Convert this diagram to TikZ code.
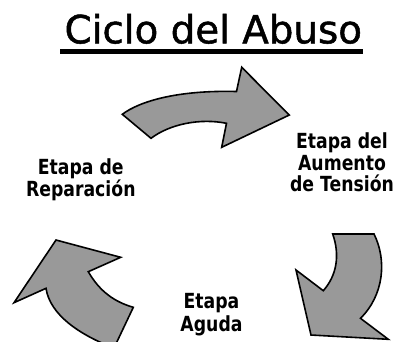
\documentclass[tikz,border=0pt]{standalone}
\usepackage{fontspec}
\setmainfont{DejaVu Sans}
\newfontfamily\titlefont{DejaVu Sans}[FakeBold=1.3]
\newfontfamily\labfont{DejaVu Sans}[FakeStretch=0.83]
\definecolor{arrowgray}{RGB}{153,153,153}
\tikzset{
  arrowshape/.style={fill=arrowgray, draw=black, line width=1.6pt, line join=miter, miter limit=10},
  titletext/.style={anchor=base, inner sep=0pt, font=\titlefont\fontsize{38.8}{40}\selectfont},
  labtext/.style={anchor=base, inner sep=0pt, font=\labfont\bfseries\fontsize{20.8}{22}\selectfont}
}
\begin{document}
\begin{tikzpicture}[x=1pt,y=-1pt]
\clip (0,0) rectangle (401,341);
\fill[white] (0,0) rectangle (401,341);
% title
\node[titletext] (title) at (213.3,43.3) {Ciclo del Abuso};
\fill[black] (60,49.3) rectangle (363,54.3);
% top arrow
\draw[arrowshape] (122.3,114.3) .. controls (140,101) and (178,90) .. (236.5,91.5)
  -- (241.7,67.3) -- (289.3,115) -- (221.7,147.3) -- (226.5,123.3)
  .. controls (200,118) and (170,124) .. (151,138.3) -- cycle;
% right arrow
\draw[arrowshape] (332.7,234) -- (374,234) .. controls (387,260) and (384,295) .. (360.5,318.3)
  -- (388.3,339.3) -- (311,335) -- (296,270) -- (323.3,290.7)
  .. controls (337,275) and (340,255) .. (332.7,234) -- cycle;
% left arrow
\draw[arrowshape] (56,240) -- (120.7,257.3) -- (88.3,271.7)
  .. controls (100,292) and (115,302) .. (133.3,307.3) -- (114,348)
  .. controls (80,335) and (50,315) .. (46,288.3) -- (14,302.7) -- cycle;
% labels
\node[labtext] (repA) at (80.8,174) {Etapa de};
\node[labtext] (repB) at (80.8,196) {Reparación};
\node[labtext] (tenA) at (342,148.3) {Etapa del};
\node[labtext] (tenB) at (342,170) {Aumento};
\node[labtext] (tenC) at (342,191.7) {de Tensión};
\node[labtext] (agA) at (211.5,308.3) {Etapa};
\node[labtext] (agB) at (211.5,331) {Aguda};
\end{tikzpicture}
\end{document}
